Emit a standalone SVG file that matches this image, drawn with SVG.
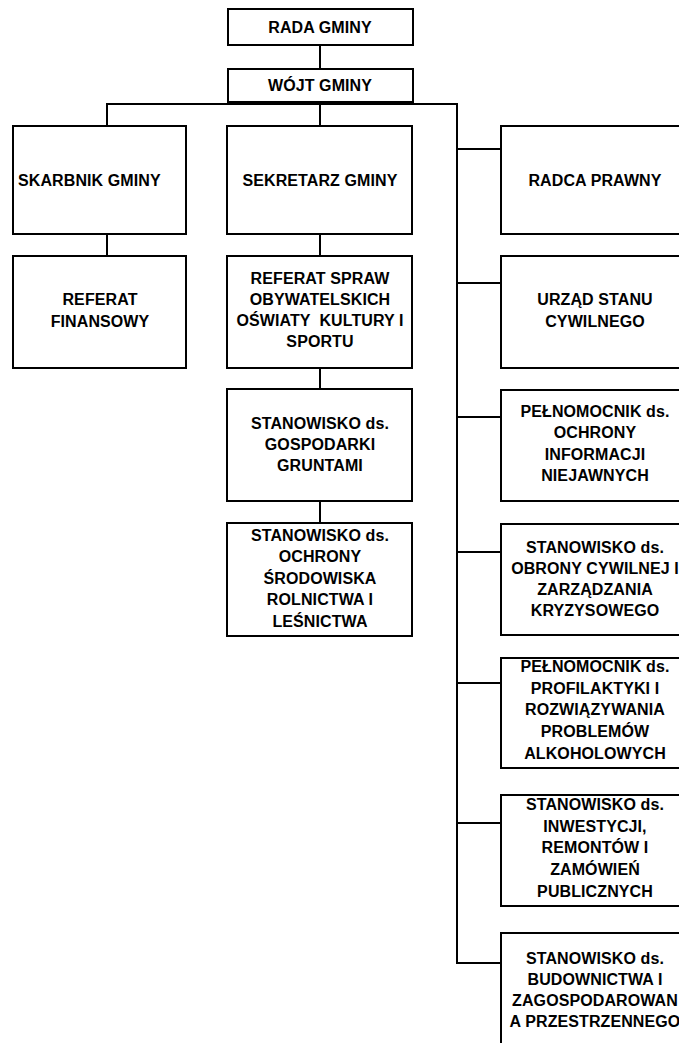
<svg xmlns="http://www.w3.org/2000/svg" width="679" height="1043" viewBox="0 0 679 1043">
<style>
rect{fill:#fff;stroke:#000;stroke-width:2}
.c line,.c polyline{stroke:#000;stroke-width:2;fill:none}
text{font-family:"Liberation Sans",Arial,sans-serif;font-weight:bold;font-size:16px;letter-spacing:0.1px;fill:#000;text-anchor:middle}
</style>
<rect x="0" y="0" width="679" height="1043" style="stroke:none"/>
<g class="c" id="connectors">
<line x1="320" y1="45" x2="320" y2="69"/>
<line x1="106" y1="104" x2="458" y2="104"/>
<line x1="107" y1="104" x2="107" y2="126"/>
<line x1="320" y1="102" x2="320" y2="126"/>
<line x1="107" y1="234" x2="107" y2="256"/>
<line x1="320" y1="234" x2="320" y2="256"/>
<line x1="320" y1="368" x2="320" y2="389"/>
<line x1="320" y1="501" x2="320" y2="523"/>
<polyline points="457,104 457,963 501,963"/>
<line x1="457" y1="149" x2="501" y2="149"/>
<line x1="457" y1="283" x2="501" y2="283"/>
<line x1="457" y1="417" x2="501" y2="417"/>
<line x1="457" y1="552" x2="501" y2="552"/>
<line x1="457" y1="683" x2="501" y2="683"/>
<line x1="457" y1="823" x2="501" y2="823"/>
</g>
<g id="rada"><rect x="228" y="9" width="185" height="36"/><text x="320" y="33">RADA GMINY</text></g>
<g id="wojt"><rect x="228" y="69" width="185" height="33"/><text x="320" y="91">WÓJT GMINY</text></g>
<g id="skarbnik"><rect x="13" y="126" width="173" height="108"/><text x="18" y="186" style="text-anchor:start">SKARBNIK GMINY</text></g>
<g id="ref-fin"><rect x="13" y="256" width="173" height="112"/><text x="100" y="305">REFERAT</text><text x="100" y="327">FINANSOWY</text></g>
<g id="sekretarz"><rect x="227" y="126" width="185" height="108"/><text x="320" y="186">SEKRETARZ GMINY</text></g>
<g id="ref-spraw"><rect x="227" y="256" width="185" height="112"/><text x="320" y="284">REFERAT SPRAW</text><text x="320" y="305">OBYWATELSKICH</text><text x="320" y="326" xml:space="preserve">OŚWIATY  KULTURY I</text><text x="320" y="347">SPORTU</text></g>
<g id="st-grunty"><rect x="227" y="389" width="185" height="112"/><text x="320" y="429">STANOWISKO ds.</text><text x="320" y="450">GOSPODARKI</text><text x="320" y="471">GRUNTAMI</text></g>
<g id="st-srodowisko"><rect x="227" y="523" width="185" height="113"/><text x="320" y="541">STANOWISKO ds.</text><text x="320" y="562">OCHRONY</text><text x="320" y="584">ŚRODOWISKA</text><text x="320" y="605">ROLNICTWA I</text><text x="320" y="627">LEŚNICTWA</text></g>
<g id="radca"><rect x="501" y="126" width="190" height="108"/><text x="595" y="186">RADCA PRAWNY</text></g>
<g id="usc"><rect x="501" y="256" width="190" height="112"/><text x="595" y="305">URZĄD STANU</text><text x="595" y="327">CYWILNEGO</text></g>
<g id="pelnomocnik-info"><rect x="501" y="390" width="190" height="111"/><text x="595" y="417">PEŁNOMOCNIK ds.</text><text x="595" y="438">OCHRONY</text><text x="595" y="460">INFORMACJI</text><text x="595" y="481">NIEJAWNYCH</text></g>
<g id="st-obrona"><rect x="501" y="524" width="190" height="111"/><text x="595" y="553">STANOWISKO ds.</text><text x="595" y="574">OBRONY CYWILNEJ I</text><text x="595" y="595">ZARZĄDZANIA</text><text x="595" y="616">KRYZYSOWEGO</text></g>
<g id="pelnomocnik-alk"><rect x="501" y="658" width="190" height="110"/><text x="595" y="672">PEŁNOMOCNIK ds.</text><text x="595" y="694">PROFILAKTYKI I</text><text x="595" y="715">ROZWIĄZYWANIA</text><text x="595" y="737">PROBLEMÓW</text><text x="595" y="759">ALKOHOLOWYCH</text></g>
<g id="st-inwestycje"><rect x="501" y="795" width="190" height="111"/><text x="595" y="810">STANOWISKO ds.</text><text x="595" y="832">INWESTYCJI,</text><text x="595" y="853">REMONTÓW I</text><text x="595" y="875">ZAMÓWIEŃ</text><text x="595" y="897">PUBLICZNYCH</text></g>
<g id="st-budownictwo"><rect x="501" y="933" width="190" height="130"/><text x="595" y="964">STANOWISKO ds.</text><text x="595" y="985">BUDOWNICTWA I</text><text x="595" y="1006">ZAGOSPODAROWAN</text><text x="595" y="1027">A PRZESTRZENNEGO</text></g>
</svg>
